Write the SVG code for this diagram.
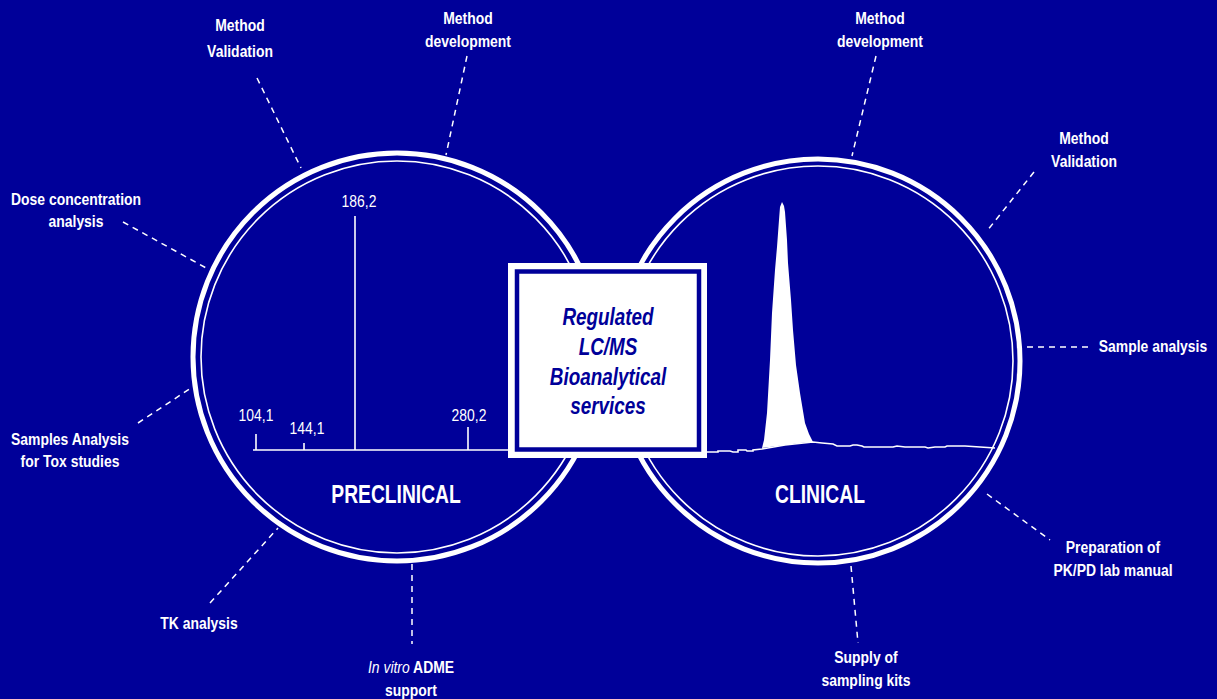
<svg xmlns="http://www.w3.org/2000/svg" width="1217" height="699" viewBox="0 0 1217 699">
<style>
.lbl{font-family:"Liberation Sans",Arial,sans-serif;font-weight:bold;font-size:17px;fill:#ffffff;text-anchor:middle}
.num{font-family:"Liberation Sans",Arial,sans-serif;font-size:17px;fill:#ffffff;text-anchor:middle}
.big{font-family:"Liberation Sans",Arial,sans-serif;font-weight:bold;font-size:25px;fill:#ffffff;text-anchor:middle}
.box{font-family:"Liberation Sans",Arial,sans-serif;font-weight:bold;font-style:italic;font-size:23px;fill:#000099;text-anchor:middle}
.dash{stroke:#ffffff;stroke-width:1.5;stroke-dasharray:6 5;fill:none}
.ring{fill:none;stroke:#ffffff;stroke-width:5}
.inring{fill:none;stroke:#ffffff;stroke-width:1.6}
.ln{stroke:#ffffff;stroke-width:1.6;fill:none}
</style>
<rect x="0" y="0" width="1217" height="699" fill="#000099"/>

<g id="connectors">
<line class="dash" x1="257" y1="78" x2="301" y2="168"/>
<line class="dash" x1="467" y1="56" x2="446" y2="155"/>
<line class="dash" x1="123" y1="222" x2="208" y2="269"/>
<line class="dash" x1="138" y1="423" x2="191" y2="388"/>
<line class="dash" x1="210" y1="603" x2="278" y2="528"/>
<line class="dash" x1="412" y1="564" x2="412" y2="644"/>
<line class="dash" x1="876" y1="56" x2="852" y2="156"/>
<line class="dash" x1="1034" y1="172" x2="987" y2="231"/>
<line class="dash" x1="1027" y1="347" x2="1090" y2="347"/>
<line class="dash" x1="987" y1="494" x2="1050" y2="540"/>
<line class="dash" x1="851" y1="566" x2="858" y2="643"/>
</g>

<g id="preclinical">
<circle class="ring" cx="397" cy="357" r="204"/>
<circle class="inring" cx="397" cy="357" r="196"/>
<line class="ln" x1="253" y1="450" x2="512" y2="450"/>
<line class="ln" x1="256" y1="434" x2="256" y2="450"/>
<line class="ln" x1="304" y1="443" x2="304" y2="450"/>
<line class="ln" x1="355" y1="216" x2="355" y2="450"/>
<line class="ln" x1="468" y1="427" x2="468" y2="450"/>
<text class="num" transform="translate(256 421) scale(0.82 1)">104,1</text>
<text class="num" transform="translate(307 434) scale(0.82 1)">144,1</text>
<text class="num" transform="translate(359 207) scale(0.82 1)">186,2</text>
<text class="num" transform="translate(469 421) scale(0.82 1)">280,2</text>
<text class="big" transform="translate(396 503) scale(0.77 1)">PRECLINICAL</text>
</g>

<g id="clinical">
<circle class="ring" cx="818" cy="361" r="202"/>
<circle class="inring" cx="818" cy="361" r="195"/>
<path d="M762,448 L764,440 L767,413 L770,360 L772,313 L775,270 L777,247 L779,220 L780,207 L782,202 L784,206 L785,212 L787,240 L788,263 L791,300 L793,330 L796,365 L800,393 L805,423 L809,434 L813,442 L800,443 L785,445 Z" fill="#ffffff"/>
<path class="ln" d="M705,452 L718,452 L718,451 L730,451 L733,452 L738,452 L738,450 L746,450 L747,451 L753,451 L753,450 L762,449 L785,445 L813,442 L822,443 L833,444 L837,446 L850,446 L853,445 L857,445 L862,446 L864,447 L878,447 L882,447 L893,447 L897,446 L905,447 L925,447 L928,448 L935,447 L945,447 L947,446 L965,446 L995,448"/>
<text class="big" transform="translate(820 503) scale(0.77 1)">CLINICAL</text>
</g>

<g id="center-box">
<rect x="508" y="263" width="199" height="195" fill="#ffffff"/>
<rect x="517" y="271.5" width="182" height="178" fill="none" stroke="#000099" stroke-width="4.5"/>
<text class="box" transform="translate(608 325) scale(0.82 1)">Regulated</text>
<text class="box" transform="translate(608 355) scale(0.82 1)">LC/MS</text>
<text class="box" transform="translate(608 385) scale(0.82 1)">Bioanalytical</text>
<text class="box" transform="translate(608 414) scale(0.82 1)">services</text>
</g>

<g id="label-method-validation-pre"><text class="lbl" transform="translate(240 31) scale(0.82 1)">Method</text><text class="lbl" transform="translate(240 57) scale(0.82 1)">Validation</text></g>
<g id="label-method-development-pre"><text class="lbl" transform="translate(468 24) scale(0.82 1)">Method</text><text class="lbl" transform="translate(468 47) scale(0.82 1)">development</text></g>
<g id="label-dose"><text class="lbl" transform="translate(76 205) scale(0.82 1)">Dose concentration</text><text class="lbl" transform="translate(76 227) scale(0.82 1)">analysis</text></g>
<g id="label-samples"><text class="lbl" transform="translate(70 445) scale(0.82 1)">Samples Analysis</text><text class="lbl" transform="translate(70 467) scale(0.82 1)">for Tox studies</text></g>
<g id="label-tk"><text class="lbl" transform="translate(199 629) scale(0.82 1)">TK analysis</text></g>
<g id="label-adme"><text class="lbl" transform="translate(411 673) scale(0.82 1)"><tspan font-style="italic" font-weight="normal">In vitro</tspan> ADME</text><text class="lbl" transform="translate(411 696) scale(0.82 1)">support</text></g>
<g id="label-method-development-cli"><text class="lbl" transform="translate(880 24) scale(0.82 1)">Method</text><text class="lbl" transform="translate(880 47) scale(0.82 1)">development</text></g>
<g id="label-method-validation-cli"><text class="lbl" transform="translate(1084 144) scale(0.82 1)">Method</text><text class="lbl" transform="translate(1084 167) scale(0.82 1)">Validation</text></g>
<g id="label-sample-analysis"><text class="lbl" transform="translate(1153 352) scale(0.82 1)">Sample analysis</text></g>
<g id="label-pkpd"><text class="lbl" transform="translate(1113 553) scale(0.82 1)">Preparation of</text><text class="lbl" transform="translate(1113 576) scale(0.82 1)">PK/PD lab manual</text></g>
<g id="label-supply"><text class="lbl" transform="translate(866 663) scale(0.82 1)">Supply of</text><text class="lbl" transform="translate(866 686) scale(0.82 1)">sampling kits</text></g>
</svg>
